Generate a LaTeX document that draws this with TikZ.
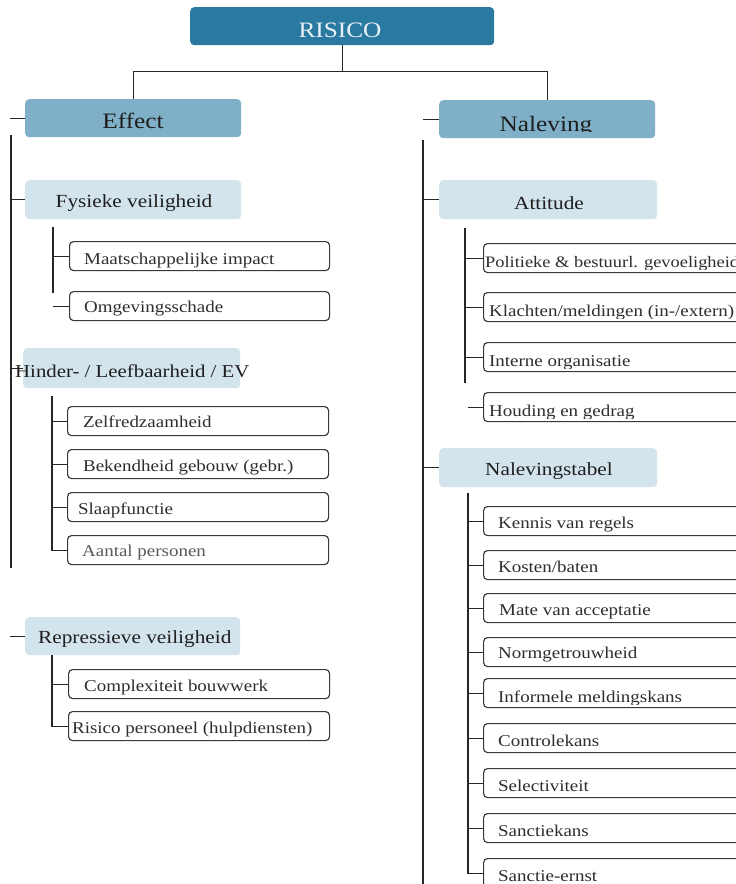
\documentclass[tikz,border=0pt]{standalone}
\usepackage{fontspec}
\setmainfont{Liberation Serif}[FakeStretch=1.15]

\definecolor{topfill}{HTML}{2979A0}
\definecolor{midfill}{HTML}{7FB0C8}
\definecolor{lowfill}{HTML}{D4E4ED}
\definecolor{edge}{HTML}{383838}
\definecolor{wire}{HTML}{262626}
\definecolor{ink}{HTML}{1E1E1E}
\definecolor{leafink}{HTML}{2E2E2E}

% leaf box: name, left x, top y, right x, text x-offset, baseline above bottom, text
\newcommand\leafnode[7]{%
  \node[leafbox, minimum width={#4pt-#2pt},
    path picture={%
      \begin{scope}
        \clip ([yshift=3pt]path picture bounding box.south west)
          rectangle (path picture bounding box.north east);
        \node[leaftext] (#1-t) at ([xshift=#5pt,yshift=#6pt]path picture bounding box.south west) {#7};
      \end{scope}}] (#1) at (#2,#3) {};}

\begin{document}
\begin{tikzpicture}[x=1pt,y=-1pt,
  wire/.style={draw=wire, line width=1.05pt},
  topbox/.style={fill=topfill, rounded corners=4pt, inner sep=0pt, anchor=north west,
    minimum width=304pt, minimum height=38pt},
  headbox/.style={fill=midfill, rounded corners=4pt, inner sep=0pt, anchor=north west,
    minimum width=216pt, minimum height=38pt},
  subbox/.style={fill=lowfill, rounded corners=4pt, inner sep=0pt, anchor=north west,
    minimum width=216pt, minimum height=39pt},
  leafbox/.style={draw=edge, line width=1.15pt, fill=white, rounded corners=4pt,
    inner sep=0pt, anchor=north west, minimum height=29pt},
  leaftext/.style={anchor=base west, inner sep=0pt, minimum width=0pt, minimum height=0pt,
    draw=none, fill=none, text=leafink, font=\fontsize{16.5}{18}\selectfont},
  bigtext/.style={anchor=base, inner sep=0pt, font=\fontsize{22}{23}\selectfont},
  subtext/.style={anchor=base, inner sep=0pt, text=ink, font=\fontsize{18.5}{20}\selectfont},
]
\clip (0,0) rectangle (736,884);
\fill[white] (0,0) rectangle (736,884);

% ---------- top level ----------
\node[topbox] (risico) at (190,7) {};
\node[bigtext, text=white!90!topfill] (risico-t) at (340,37) {RISICO};

\node[headbox] (effect) at (25,99) {};
\node[bigtext, text=ink] (effect-t) at (133,128) {Effect};

\node[headbox] (naleving) at (439,100) {};
\begin{scope}
  \clip (439,100) rectangle (655,131);
  \node[bigtext, text=ink] (naleving-t) at (546,131) {Naleving};
\end{scope}

\draw[wire] (risico.south) -- ++(0,26) coordinate (fork);
\draw[wire] (effect.north) |- (fork) -| (naleving.north);

% ---------- Effect branch ----------
\coordinate (ltop) at (11,135);
\coordinate (lend) at (11,568);
\draw[wire] (ltop) -- (lend);
\draw[wire] (effect.west) -- ++(-15,0);

\node[subbox] (fysiek) at (25,180) {};
\node[subtext] (fysiek-t) at (134,207) {Fysieke veiligheid};
\draw[wire] (fysiek.west) -- (fysiek.west -| ltop);

\coordinate (ftop) at (53,227);
\coordinate (fend) at (53,293);
\draw[wire] (ftop) -- (fend);
\leafnode{maat}{69}{241}{329}{14}{6}{Maatschappelijke impact}
\leafnode{omgev}{69}{291}{329}{14}{8}{Omgevingsschade}
\draw[wire] (maat.west) -- (maat.west -| ftop);
\draw[wire] (omgev.west) -- ++(-16,0);

\node[subbox, minimum width=217pt, minimum height=40pt] (hinder) at (23,348) {};
\draw[wire] (hinder.west) -- (hinder.west -| ltop);
\node[subtext, anchor=base west, font=\fontsize{18.1}{20}\selectfont] (hinder-t) at (15,377) {Hinder- / Leefbaarheid / EV};

\coordinate (htop) at (52,396);
\leafnode{zelf}{67}{406}{328}{15}{8}{Zelfredzaamheid}
\leafnode{bekend}{67}{449}{328}{15}{7}{Bekendheid gebouw (gebr.)}
\leafnode{slaap}{67}{492}{328}{10}{7}{Slaapfunctie}
\leafnode{aantal}{67}{535}{328}{14}{8}{\color{black!65}Aantal personen}
\draw[wire] (htop) |- (aantal.west);
\draw[wire] (zelf.west) -- (zelf.west -| htop);
\draw[wire] (bekend.west) -- (bekend.west -| htop);
\draw[wire] (slaap.west) -- (slaap.west -| htop);

\node[subbox, minimum width=215pt, minimum height=38pt] (repr) at (25,617) {};
\node[subtext, anchor=base west] (repr-t) at (38,643) {Repressieve veiligheid};
\draw[wire] (repr.west) -- ++(-15,0);

\coordinate (rtop) at (52,655);
\leafnode{compl}{68}{669}{329}{15}{7}{Complexiteit bouwwerk}
\leafnode{perso}{68}{711}{329}{3}{7}{Risico personeel (hulpdiensten)}
\draw[wire] (rtop) |- (perso.west);
\draw[wire] (compl.west) -- (compl.west -| rtop);

% ---------- Naleving branch ----------
\coordinate (rtrunk) at (423,140);
\coordinate (rtrunkend) at (423,890);
\draw[wire] (rtrunk) -- (rtrunkend);
\draw[wire] (naleving.west) -- ++(-16,0);

\node[subbox, minimum width=218pt] (attit) at (439,180) {};
\node[subtext] (attit-t) at (549,209) {Attitude};
\draw[wire] (attit.west) -- (attit.west -| rtrunk);

\coordinate (atop) at (465,228);
\coordinate (aend) at (465,383);
\draw[wire] (atop) -- (aend);
\leafnode{polit}{483}{243}{760}{1}{5}{\fontsize{16}{18}\selectfont Politieke \& bestuurl. gevoeligheid}
\leafnode{klacht}{483}{292}{760}{5}{5}{Klachten/meldingen (in-/extern)}
\leafnode{intern}{483}{342}{760}{5}{5}{Interne organisatie}
\leafnode{houd}{483}{392}{760}{5}{5}{Houding en gedrag}
\draw[wire] (polit.west) -- (polit.west -| atop);
\draw[wire] (klacht.west) -- (klacht.west -| atop);
\draw[wire] (intern.west) -- (intern.west -| atop);
\draw[wire] (houd.west) -- ++(-15,0);

\node[subbox, minimum width=218pt] (stabel) at (439,448) {};
\node[subtext] (stabel-t) at (549,475) {Nalevingstabel};
\draw[wire] (stabel.west) -- (stabel.west -| rtrunk);

\coordinate (stop) at (468,493);
\leafnode{kennis}{483}{506}{760}{14}{7}{Kennis van regels}
\leafnode{kosten}{483}{550}{760}{14}{7}{Kosten/baten}
\leafnode{mate}{483}{593}{760}{15}{7}{Mate van acceptatie}
\leafnode{norm}{483}{637}{760}{14}{8}{Normgetrouwheid}
\leafnode{inform}{483}{678}{760}{14}{5}{Informele meldingskans}
\leafnode{contr}{483}{723}{760}{14}{6}{Controlekans}
\leafnode{select}{483}{768}{760}{14}{6}{Selectiviteit}
\leafnode{sankans}{483}{813}{760}{14}{6}{Sanctiekans}
\leafnode{sanernst}{483}{858}{760}{14}{6}{Sanctie-ernst}
\draw[wire] (stop) |- (sanernst.west);
\foreach \b in {kennis,kosten,mate,norm,inform,contr,select,sankans}
  \draw[wire] (\b.west) -- (\b.west -| stop);
\end{tikzpicture}
\end{document}
